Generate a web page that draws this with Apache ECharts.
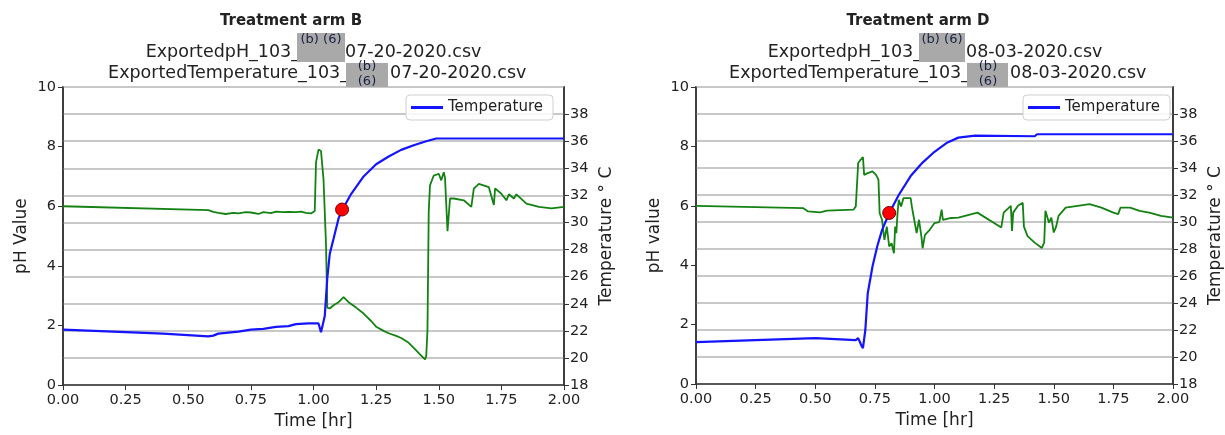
<!DOCTYPE html>
<html>
<head>
<meta charset="utf-8">
<script src="https://cdn.jsdelivr.net/npm/echarts@6/dist/echarts.min.js"></script>
<style>
  html, body { margin: 0; padding: 0; background: #fff; }
  #main { width: 1225px; height: 435px; }
</style>
</head>
<body>
<div id="main"></div>
<script>
// x ticks (hours)
var timeTicks = [0, 0.25, 0.5, 0.75, 1.0, 1.25, 1.5, 1.75, 2.0];

// Treatment arm B: temperature [hr, degC]
var tempB = [[0, 22.1], [0.2, 21.95], [0.4, 21.8], [0.58, 21.6], [0.6, 21.65], [0.62, 21.8], [0.65, 21.85],
  [0.7, 21.95], [0.75, 22.1], [0.8, 22.15], [0.85, 22.3], [0.9, 22.35], [0.93, 22.5], [0.98, 22.55],
  [1.02, 22.55], [1.03, 21.9], [1.045, 23.1], [1.055, 25.9], [1.065, 27.7], [1.08, 28.8], [1.1, 30.3],
  [1.114, 30.9], [1.15, 32.1], [1.2, 33.4], [1.25, 34.3], [1.3, 34.87], [1.35, 35.36], [1.4, 35.7],
  [1.45, 36.0], [1.49, 36.2], [2.0, 36.2]];
// Treatment arm B: pH [hr, pH]
var phB = [[0, 6.0], [0.58, 5.87], [0.6, 5.81], [0.62, 5.78], [0.65, 5.74], [0.68, 5.78], [0.7, 5.76],
  [0.73, 5.8], [0.75, 5.79], [0.78, 5.74], [0.8, 5.8], [0.83, 5.77], [0.85, 5.82], [0.88, 5.8], [0.9, 5.81],
  [0.93, 5.8], [0.95, 5.82], [0.97, 5.78], [0.99, 5.76], [1.005, 5.84], [1.01, 7.47], [1.02, 7.9],
  [1.03, 7.85], [1.04, 6.9], [1.05, 4.7], [1.055, 2.6], [1.065, 2.57], [1.08, 2.68], [1.1, 2.78],
  [1.12, 2.95], [1.14, 2.78], [1.17, 2.6], [1.2, 2.4], [1.23, 2.15], [1.25, 1.96], [1.28, 1.82],
  [1.3, 1.74], [1.33, 1.65], [1.35, 1.58], [1.38, 1.42], [1.4, 1.25], [1.43, 0.99], [1.445, 0.86],
  [1.45, 0.97], [1.455, 1.85], [1.46, 5.82], [1.465, 6.7], [1.48, 7.03], [1.5, 7.09], [1.51, 6.87],
  [1.52, 7.14], [1.525, 6.95], [1.535, 5.16], [1.545, 6.26], [1.56, 6.26], [1.6, 6.2], [1.63, 5.98],
  [1.64, 6.59], [1.66, 6.75], [1.7, 6.64], [1.72, 6.04], [1.725, 6.6], [1.75, 6.42], [1.77, 6.2],
  [1.78, 6.4], [1.8, 6.26], [1.81, 6.4], [1.85, 6.09], [1.9, 5.98], [1.95, 5.93], [2.0, 5.98]];
var markB = [[1.114, 5.89]];

// Treatment arm D: temperature
var tempD = [[0, 21.1], [0.25, 21.25], [0.5, 21.4], [0.67, 21.25], [0.68, 21.4], [0.695, 20.8],
  [0.7, 20.65], [0.71, 22.0], [0.72, 24.7], [0.74, 26.7], [0.76, 28.2], [0.78, 29.4], [0.81, 30.65],
  [0.85, 32.0], [0.9, 33.4], [0.95, 34.4], [1.0, 35.2], [1.05, 35.85], [1.1, 36.25], [1.17, 36.4],
  [1.42, 36.35], [1.43, 36.5], [2.0, 36.5]];
// Treatment arm D: pH
var phD = [[0, 6.0], [0.45, 5.92], [0.47, 5.81], [0.52, 5.78], [0.55, 5.84], [0.66, 5.87], [0.67, 5.98],
  [0.675, 5.98], [0.68, 7.44], [0.69, 7.55], [0.7, 7.64], [0.705, 7.04], [0.72, 7.1], [0.74, 7.16],
  [0.755, 7.04], [0.765, 6.88], [0.77, 5.75], [0.78, 5.53], [0.79, 4.85], [0.8, 5.3], [0.81, 4.63],
  [0.82, 4.74], [0.83, 4.4], [0.835, 5.3], [0.84, 5.08], [0.845, 5.75], [0.85, 6.2], [0.86, 5.98],
  [0.87, 6.26], [0.9, 6.26], [0.905, 5.98], [0.91, 5.75], [0.915, 5.8], [0.925, 5.08], [0.935, 5.53],
  [0.945, 4.97], [0.95, 4.57], [0.96, 5.02], [0.98, 5.19], [1.0, 5.42], [1.02, 5.45], [1.03, 5.87],
  [1.035, 5.53], [1.07, 5.59], [1.1, 5.6], [1.18, 5.77], [1.28, 5.27], [1.29, 5.77], [1.32, 6.0],
  [1.325, 5.15], [1.33, 5.77], [1.35, 6.0], [1.37, 6.1], [1.375, 5.3], [1.39, 4.98], [1.42, 4.76],
  [1.45, 4.58], [1.46, 4.76], [1.465, 5.83], [1.48, 5.43], [1.49, 5.6], [1.5, 5.1], [1.51, 5.3],
  [1.52, 5.66], [1.55, 5.94], [1.6, 6.0], [1.65, 6.06], [1.7, 5.94], [1.75, 5.77], [1.77, 5.72],
  [1.78, 5.94], [1.82, 5.94], [1.86, 5.83], [1.9, 5.77], [1.95, 5.66], [2.0, 5.6]];
var markD = [[0.81, 5.76]];

var FONT = 'DejaVu Sans';
var INK = '#222';

function xAx(grid) {
  return {
    type: 'value', gridIndex: grid, min: timeTicks[0], max: timeTicks[timeTicks.length - 1], interval: 0.25,
    name: 'Time [hr]', nameLocation: 'middle', nameGap: 27,
    nameTextStyle: { fontSize: 17, color: INK, fontFamily: FONT },
    axisLine: { lineStyle: { color: '#333', width: 1.5 } },
    axisTick: { show: true, length: 5, lineStyle: { color: '#333' } },
    axisLabel: { fontSize: 14.5, color: INK, fontFamily: FONT, margin: 8, formatter: function (v) { return v.toFixed(2); } },
    splitLine: { show: false }
  };
}
function phAx(grid, label) {
  return {
    type: 'value', gridIndex: grid, min: 0, max: 10, interval: 2, position: 'left',
    name: label, nameLocation: 'middle', nameRotate: 90, nameGap: 33,
    nameTextStyle: { fontSize: 17, color: INK, fontFamily: FONT },
    axisLine: { show: true, lineStyle: { color: '#333', width: 1.5 } },
    axisTick: { show: true, length: 5, lineStyle: { color: '#333' } },
    axisLabel: { fontSize: 14.5, color: INK, fontFamily: FONT, margin: 7 },
    splitLine: { show: false }
  };
}
function tempAx(grid) {
  return {
    type: 'value', gridIndex: grid, min: 18, max: 40, interval: 2, position: 'right',
    name: 'Temperature ° C', nameLocation: 'middle', nameRotate: 90, nameGap: 34,
    nameTextStyle: { fontSize: 17, color: INK, fontFamily: FONT },
    axisLine: { show: true, lineStyle: { color: '#333', width: 1.5 } },
    axisTick: { show: true, length: 5, lineStyle: { color: '#333' } },
    axisLabel: { fontSize: 14.5, color: INK, fontFamily: FONT, margin: 6, showMaxLabel: false,
      formatter: function (v) { return v === 40 ? '' : v; } },
    splitLine: { show: true, lineStyle: { color: '#c8c8c8', width: 2 } }
  };
}
function legendAt(left) {
  return {
    left: left, top: 95, data: ['Temperature'], orient: 'horizontal',
    icon: 'rect', itemWidth: 32, itemHeight: 3,
    backgroundColor: 'rgba(255,255,255,0.85)', borderColor: '#cfcfcf', borderWidth: 1, borderRadius: 4,
    padding: [5, 10, 5, 5], textStyle: { fontSize: 15, color: INK, fontFamily: FONT }
  };
}
function seriesFor(xi, phYi, tYi, ph, temp, mark) {
  return [
    { name: 'pH', type: 'line', xAxisIndex: xi, yAxisIndex: phYi, data: ph, showSymbol: false,
      lineStyle: { color: '#138213', width: 1.8 }, itemStyle: { color: '#138213' }, z: 2, animation: false },
    { name: 'Temperature', type: 'line', xAxisIndex: xi, yAxisIndex: tYi, data: temp, showSymbol: false,
      lineStyle: { color: '#1414ff', width: 2.2 }, itemStyle: { color: '#1414ff' }, z: 3, animation: false },
    { name: 'marker', type: 'scatter', xAxisIndex: xi, yAxisIndex: phYi, data: mark, symbolSize: 13,
      itemStyle: { color: '#ff0000', borderColor: '#700', borderWidth: 1, opacity: 1 }, z: 5, animation: false }
  ];
}
function txt(x, y, s, size, align, weight) {
  return { type: 'text', z: 10, style: { x: x, y: y, text: s, fill: INK, font: (weight || 'normal') + ' ' + size + 'px "' + FONT + '"',
    align: align, textAlign: align, verticalAlign: 'middle', textVerticalAlign: 'middle' } };
}
function redact(x, y, w, h) {
  return { type: 'rect', z: 11, shape: { x: x, y: y, width: w, height: h }, style: { fill: '#a9a9a9' } };
}
function tag(x, y, s) {
  return { type: 'text', z: 12, style: { x: x, y: y, text: s, fill: '#1a2244', font: '13px "' + FONT + '"',
    align: 'center', textAlign: 'center', verticalAlign: 'middle', textVerticalAlign: 'middle' } };
}

var myChart = echarts.init(document.getElementById('main'), null, { renderer: 'canvas' });
var option = {
  animation: false,
  textStyle: { fontFamily: FONT },
  grid: [
    { left: 63, right: 661, top: 87, bottom: 46, show: true, borderColor: '#333', borderWidth: 1.5, backgroundColor: 'transparent' },
    { left: 696, right: 50, top: 87, bottom: 51, show: true, borderColor: '#333', borderWidth: 1.5, backgroundColor: 'transparent' }
  ],
  legend: [legendAt(406), legendAt(1023)],
  xAxis: [xAx(0), xAx(1)],
  yAxis: [phAx(0, 'pH Value'), tempAx(0), phAx(1, 'pH value'), tempAx(1)],
  series: [].concat(seriesFor(0, 0, 1, phB, tempB, markB), seriesFor(1, 2, 3, phD, tempD, markD)),
  graphic: [
    // arm B heading
    txt(291, 21, 'Treatment arm B', 15, 'center', 'bold'),
    txt(300, 52, 'ExportedpH_103_', 17.5, 'right'),
    txt(345, 52, '07-20-2020.csv', 17.5, 'left'),
    txt(349, 73, 'ExportedTemperature_103_', 17.5, 'right'),
    txt(390, 73, '07-20-2020.csv', 17.5, 'left'),
    redact(297, 33, 48, 29), tag(321, 40, '(b) (6)'),
    redact(346, 63, 42, 24), tag(367, 67, '(b)'), tag(367, 82, '(6)'),
    // arm D heading
    txt(918, 21, 'Treatment arm D', 15, 'center', 'bold'),
    txt(922, 52, 'ExportedpH_103_', 17.5, 'right'),
    txt(966, 52, '08-03-2020.csv', 17.5, 'left'),
    txt(970, 73, 'ExportedTemperature_103_', 17.5, 'right'),
    txt(1010, 73, '08-03-2020.csv', 17.5, 'left'),
    redact(919, 33, 46, 29), tag(942, 40, '(b) (6)'),
    redact(967, 63, 41, 24), tag(988, 67, '(b)'), tag(988, 82, '(6)')
  ]
};
myChart.setOption(option);
</script>
</body>
</html>
